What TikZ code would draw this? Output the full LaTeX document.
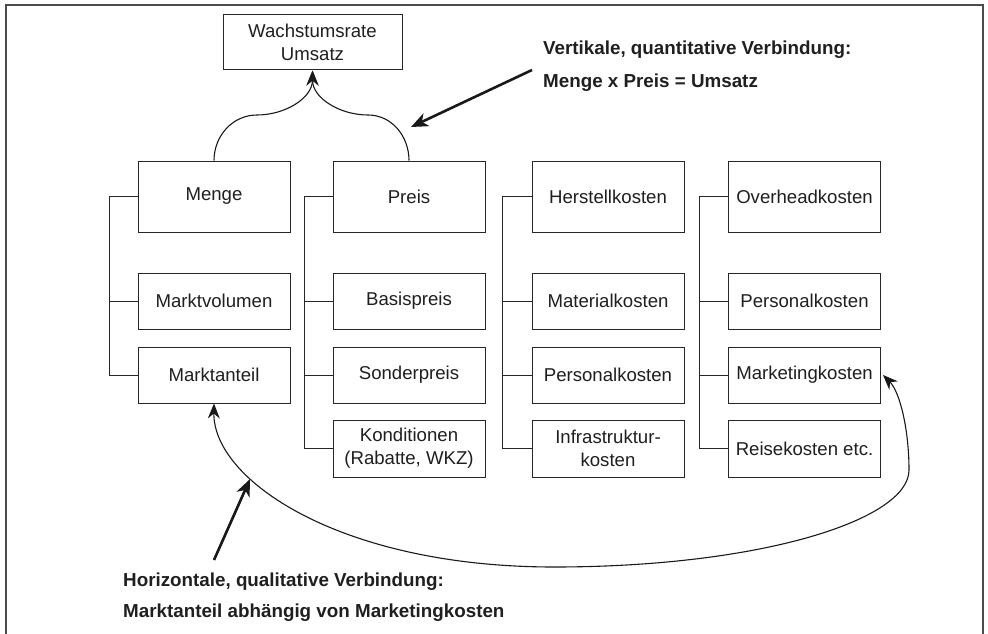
\documentclass[tikz,border=0pt]{standalone}
\usepackage{fontspec}
\setmainfont{Liberation Sans}
\usetikzlibrary{arrows.meta}
\tikzset{
  thinhead/.tip={Stealth[length=15pt,width=12pt,inset=5pt]},
  boldhead/.tip={Stealth[length=17pt,width=14pt,inset=5pt]}
}
\begin{document}
\begin{tikzpicture}[x=1pt,y=-1pt,
  box/.style={draw=black!85, line width=1pt, fill=white, minimum width=152pt,
    inner sep=0pt, align=center, font=\fontsize{18.6}{23}\selectfont, text=black!88},
  big/.style={box, minimum height=71pt},
  small/.style={box, minimum height=56pt},
  branch/.style={draw=black!85, line width=1pt},
  thinarrow/.style={line width=1.1pt, black!90, -thinhead},
  boldarrow/.style={line width=2.6pt, black!90, -boldhead},
  note/.style={anchor=west, inner sep=0pt, font=\bfseries\fontsize{18.8}{22}\selectfont, text=black!88}]

\useasboundingbox (0,0) rectangle (988,634);
% outer frame (open at the bottom edge)
\draw[black!70, line width=1.2pt] (6,640) -- (6,5) -- (983,5) -- (983,640);

% top node
\node[box, minimum width=179pt, minimum height=55pt] (ws) at (312.5,42.5) {Wachstumsrate\\Umsatz};

% column 1
\node[big]   (m)  at (214,196.5) {Menge};
\node[small] (mv) at (214,301)   {Marktvolumen};
\node[small] (ma) at (214,375)   {Marktanteil};
% column 2
\node[big]   (p)  at (409,196.5) {Preis};
\node[small] (bp) at (409,301)   {Basispreis};
\node[small] (sp) at (409,375)   {Sonderpreis};
\node[small, minimum height=57pt] (ko) at (409,448.5) {Konditionen\\(Rabatte, WKZ)};
% column 3
\node[big]   (h)  at (608,196.5) {Herstellkosten};
\node[small] (mk) at (608,301)   {Materialkosten};
\node[small] (pk) at (608,375)   {Personalkosten};
\node[small, minimum height=57pt] (ik) at (608,448.5) {Infrastruktur-\\kosten};
% column 4
\node[big]   (o)  at (804.5,196.5) {Overheadkosten};
\node[small] (op) at (804.5,301)   {Personalkosten};
\node[small] (om) at (804.5,375)   {Marketingkosten};
\node[small, minimum height=57pt] (or) at (804.5,448.5) {Reisekosten etc.};

% tree branches
\draw[branch] (m.west) -- ++(-28,0) |- (ma.west);
\draw[branch] (mv.west) -- ++(-28,0);
\draw[branch] (p.west) -- ++(-28,0) |- (ko.west);
\draw[branch] (bp.west) -- ++(-28,0);
\draw[branch] (sp.west) -- ++(-28,0);
\draw[branch] (h.west) -- ++(-29,0) |- (ik.west);
\draw[branch] (mk.west) -- ++(-29,0);
\draw[branch] (pk.west) -- ++(-29,0);
\draw[branch] (o.west) -- ++(-29,0) |- (or.west);
\draw[branch] (op.west) -- ++(-29,0);
\draw[branch] (om.west) -- ++(-29,0);

% quantitative link: Menge and Preis into the top node
\coordinate (hl) at (257,115);
\coordinate (hr) at (368,115);
\draw[thinarrow] (m.north) to[out=90,in=180] (hl) to[out=0,in=-90] (ws.south);
\draw[thinarrow] (p.north) to[out=90,in=0] (hr) to[out=180,in=-90] (ws.south);

% qualitative link: Marktanteil <-> Marketingkosten
\coordinate (lb) at (554,567);
\coordinate (rr) at (909,470);
\draw[line width=1.1pt, black!90, thinhead-thinhead]
  (ma.south) .. controls (213,480) and (340,567) .. (lb)
  .. controls (760,567) and (909,520) .. (rr)
  .. controls (909,430) and (900,392) .. ([xshift=2pt]om.east);

% annotations
\coordinate (t1) at (532,70);
\coordinate (h1) at (411,127);
\draw[boldarrow] (t1) -- (h1);
\node[note] (n1) at (543,50) {Vertikale, quantitative Verbindung:};
\node[note] (n2) at (543,83) {Menge x Preis = Umsatz};

\coordinate (t2) at (214,560);
\coordinate (h2) at (250,479);
\draw[boldarrow] (t2) -- (h2);
\node[note] (n3) at (123,582) {Horizontale, qualitative Verbindung:};
\node[note] (n4) at (123,613) {Marktanteil abhängig von Marketingkosten};
\end{tikzpicture}
\end{document}
